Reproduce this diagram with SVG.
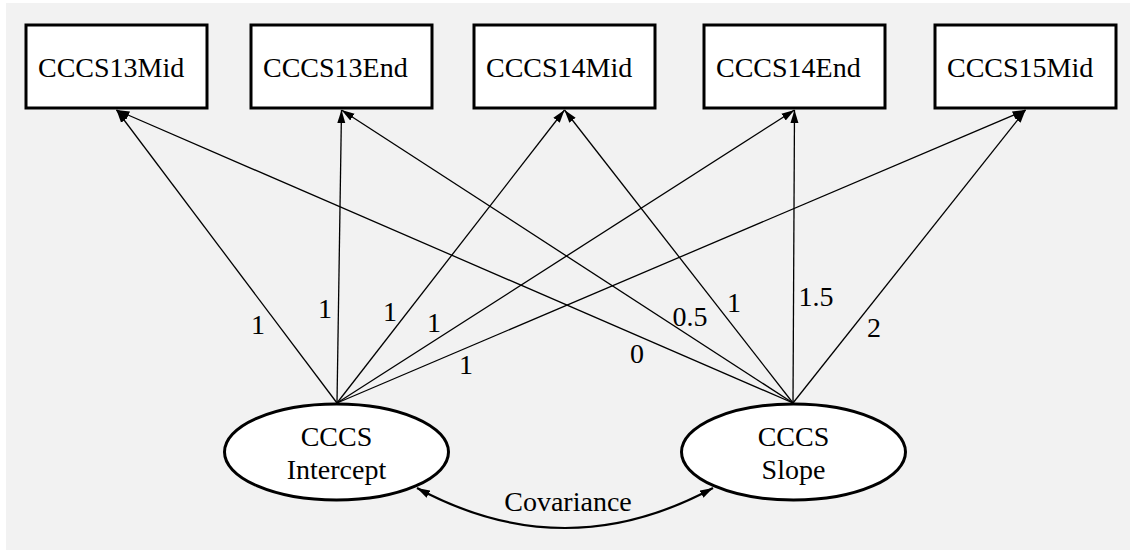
<svg xmlns="http://www.w3.org/2000/svg" width="1130" height="550" viewBox="0 0 1130 550">
<style>
.box{fill:#fff;stroke:#000;stroke-width:3}
.ell{fill:#fff;stroke:#000;stroke-width:3}
.t{font-family:"Liberation Serif","Times New Roman",serif;font-size:28px;fill:#000}
.lbl{font-family:"Liberation Serif","Times New Roman",serif;font-size:28px;fill:#000;text-anchor:middle}
.c{text-anchor:middle}
.edge{stroke:#000;stroke-width:1.3;fill:none;marker-end:url(#ah)}
.cov{stroke:#000;stroke-width:2.2;fill:none;marker-end:url(#ah2);marker-start:url(#ah2)}
</style>
<defs>
<marker id="ah" markerUnits="userSpaceOnUse" markerWidth="14" markerHeight="10" refX="13" refY="4" orient="auto" viewBox="0 0 14 8">
<path d="M0,0 L13,4 L0,8 z" fill="#000"/>
</marker>
<marker id="ah2" markerUnits="userSpaceOnUse" markerWidth="14" markerHeight="10" refX="13" refY="4" orient="auto-start-reverse" viewBox="0 0 14 8">
<path d="M0,0 L13,4 L0,8 z" fill="#000"/>
</marker>
</defs>
<rect x="6" y="3" width="1124" height="547" fill="#f2f2f2"/>
<g id="connectors">
<line class="edge" x1="337" y1="403" x2="116.5" y2="110"/>
<line class="edge" x1="337" y1="403" x2="341.5" y2="110"/>
<line class="edge" x1="337" y1="403" x2="564.5" y2="110"/>
<line class="edge" x1="337" y1="403" x2="794.5" y2="110"/>
<line class="edge" x1="337" y1="403" x2="1025.5" y2="110"/>
<line class="edge" x1="793" y1="403" x2="116.5" y2="110"/>
<line class="edge" x1="793" y1="403" x2="341.5" y2="110"/>
<line class="edge" x1="793" y1="403" x2="564.5" y2="110"/>
<line class="edge" x1="793" y1="403" x2="794.5" y2="110"/>
<line class="edge" x1="793" y1="403" x2="1025.5" y2="110"/>
<path class="cov" d="M417,488 Q565,568 713,488"/>
<text class="lbl" x="258" y="334">1</text>
<text class="lbl" x="325" y="318">1</text>
<text class="lbl" x="390" y="321">1</text>
<text class="lbl" x="434" y="332">1</text>
<text class="lbl" x="466" y="374">1</text>
<text class="lbl" x="637" y="363">0</text>
<text class="lbl" x="690" y="326">0.5</text>
<text class="lbl" x="734" y="312">1</text>
<text class="lbl" x="816" y="306">1.5</text>
<text class="lbl" x="874" y="337">2</text>
<text class="lbl" x="568" y="511">Covariance</text>
</g>
<g id="CCCS13Mid"><rect class="box" x="26" y="25" width="181" height="83"/><text class="t" x="38" y="77">CCCS13Mid</text></g>
<g id="CCCS13End"><rect class="box" x="251" y="25" width="181" height="83"/><text class="t" x="263" y="77">CCCS13End</text></g>
<g id="CCCS14Mid"><rect class="box" x="474" y="25" width="181" height="83"/><text class="t" x="486" y="77">CCCS14Mid</text></g>
<g id="CCCS14End"><rect class="box" x="704" y="25" width="181" height="83"/><text class="t" x="716" y="77">CCCS14End</text></g>
<g id="CCCS15Mid"><rect class="box" x="935" y="25" width="181" height="83"/><text class="t" x="947" y="77">CCCS15Mid</text></g>
<g id="CCCSIntercept"><ellipse class="ell" cx="336.5" cy="452" rx="112" ry="48"/><text class="t c" x="336.5" y="446">CCCS</text><text class="t c" x="336.5" y="479">Intercept</text></g>
<g id="CCCSSlope"><ellipse class="ell" cx="793.5" cy="452" rx="112" ry="48"/><text class="t c" x="793.5" y="446">CCCS</text><text class="t c" x="793.5" y="479">Slope</text></g>
</svg>
